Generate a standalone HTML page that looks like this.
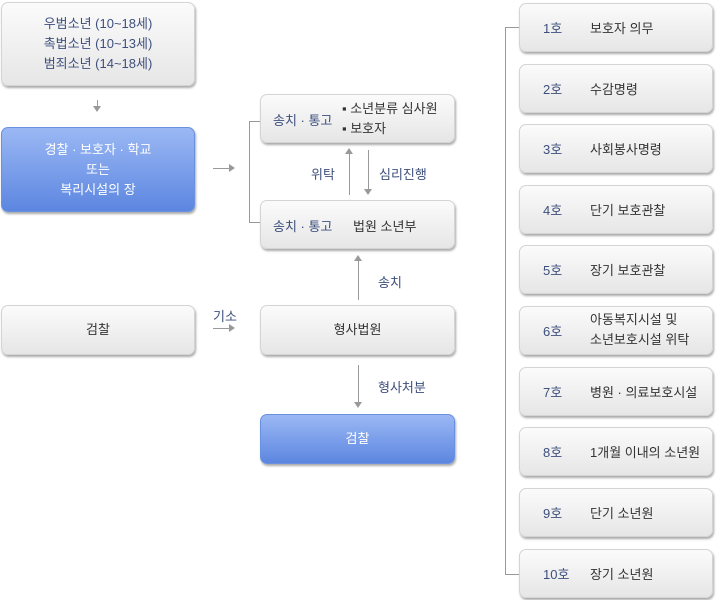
<!DOCTYPE html>
<html><head><meta charset="utf-8"><style>
body{margin:0;width:720px;height:600px;background:#fff;position:relative;font-family:"Liberation Sans","Noto Sans CJK KR",sans-serif;font-size:13px;color:#333;overflow:hidden}
.b{position:absolute;box-sizing:border-box;border:1px solid #d4d4d4;border-radius:7px;background:linear-gradient(#fbfbfb,#e6e6e6);box-shadow:1px 2px 2px #aaa}
.bl{background:linear-gradient(#9bb8f4,#5c86e0);border-color:#6a90e0;color:#fff}
.c{display:flex;align-items:center;justify-content:center;text-align:center;line-height:20px}
.t{position:absolute;white-space:nowrap}
.lb{color:#3d4f7c}
.l{position:absolute;background:#999}
.ad{position:absolute;width:0;height:0;border-left:4px solid transparent;border-right:4px solid transparent;border-top:6px solid #999}
.au{position:absolute;width:0;height:0;border-left:4px solid transparent;border-right:4px solid transparent;border-bottom:6px solid #999}
.ar{position:absolute;width:0;height:0;border-top:4px solid transparent;border-bottom:4px solid transparent;border-left:6px solid #999}
</style></head><body>
<div class="b c lb" style="left:1px;top:2px;width:194px;height:84px;color:#3d4f7c">우범소년 (10~18세)<br>촉법소년 (10~13세)<br>범죄소년 (14~18세)</div>
<div class="l" style="left:97px;top:100px;width:1px;height:7px"></div><div class="ad" style="left:93px;top:106px"></div>
<div class="b bl c" style="left:1px;top:127px;width:194px;height:85px">경찰 · 보호자 · 학교<br>또는<br>복리시설의 장</div>
<div class="l" style="left:213px;top:168px;width:17px;height:1px"></div><div class="ar" style="left:229px;top:164px"></div>
<div class="l" style="left:249px;top:121px;width:1px;height:102px"></div>
<div class="l" style="left:249px;top:121px;width:11px;height:1px"></div>
<div class="l" style="left:249px;top:222px;width:11px;height:1px"></div>
<div class="b" style="left:260px;top:94px;width:195px;height:49px"></div>
<div class="t lb" style="left:273px;top:110px">송치 · 통고</div>
<div class="t" style="left:342px;top:99px;line-height:20px">▪ 소년분류 심사원<br>▪ 보호자</div>
<div class="l" style="left:349px;top:152px;width:1px;height:43px"></div><div class="au" style="left:345px;top:148px"></div>
<div class="l" style="left:368px;top:150px;width:1px;height:40px"></div><div class="ad" style="left:364px;top:189px"></div>
<div class="t lb" style="left:311px;top:164px">위탁</div>
<div class="t lb" style="left:379px;top:164px">심리진행</div>
<div class="b" style="left:260px;top:200px;width:195px;height:49px"></div>
<div class="t lb" style="left:273px;top:216px">송치 · 통고</div>
<div class="t" style="left:353px;top:216px">법원 소년부</div>
<div class="l" style="left:358px;top:259px;width:1px;height:41px"></div><div class="au" style="left:354px;top:255px"></div>
<div class="t lb" style="left:378px;top:272px">송치</div>
<div class="b c" style="left:1px;top:305px;width:194px;height:50px">검찰</div>
<div class="t lb" style="left:213px;top:306px">기소</div>
<div class="l" style="left:213px;top:328px;width:17px;height:1px"></div><div class="ar" style="left:229px;top:324px"></div>
<div class="b c" style="left:260px;top:305px;width:195px;height:50px">형사법원</div>
<div class="l" style="left:358px;top:365px;width:1px;height:38px"></div><div class="ad" style="left:354px;top:402px"></div>
<div class="t lb" style="left:378px;top:377px">형사처분</div>
<div class="b bl c" style="left:260px;top:414px;width:195px;height:50px">검찰</div>
<div class="l" style="left:505px;top:27px;width:1px;height:548px"></div>
<div class="l" style="left:505px;top:27px;width:14px;height:1px"></div>
<div class="l" style="left:505px;top:574px;width:14px;height:1px"></div>
<div class="b" style="left:519px;top:3px;width:194px;height:49px"></div><div class="t lb" style="left:543px;top:18px">1호</div><div class="t" style="left:590px;top:18px">보호자 의무</div>
<div class="b" style="left:519px;top:64px;width:194px;height:49px"></div><div class="t lb" style="left:543px;top:79px">2호</div><div class="t" style="left:590px;top:79px">수감명령</div>
<div class="b" style="left:519px;top:124px;width:194px;height:49px"></div><div class="t lb" style="left:543px;top:139px">3호</div><div class="t" style="left:590px;top:139px">사회봉사명령</div>
<div class="b" style="left:519px;top:185px;width:194px;height:49px"></div><div class="t lb" style="left:543px;top:200px">4호</div><div class="t" style="left:590px;top:200px">단기 보호관찰</div>
<div class="b" style="left:519px;top:245px;width:194px;height:49px"></div><div class="t lb" style="left:543px;top:260px">5호</div><div class="t" style="left:590px;top:260px">장기 보호관찰</div>
<div class="b" style="left:519px;top:306px;width:194px;height:49px"></div><div class="t lb" style="left:543px;top:321px">6호</div><div class="t" style="left:590px;top:310px;line-height:20px">아동복지시설 및<br>소년보호시설 위탁</div>
<div class="b" style="left:519px;top:367px;width:194px;height:49px"></div><div class="t lb" style="left:543px;top:382px">7호</div><div class="t" style="left:590px;top:382px">병원 · 의료보호시설</div>
<div class="b" style="left:519px;top:427px;width:194px;height:49px"></div><div class="t lb" style="left:543px;top:442px">8호</div><div class="t" style="left:590px;top:442px">1개월 이내의 소년원</div>
<div class="b" style="left:519px;top:488px;width:194px;height:49px"></div><div class="t lb" style="left:543px;top:503px">9호</div><div class="t" style="left:590px;top:503px">단기 소년원</div>
<div class="b" style="left:519px;top:549px;width:194px;height:49px"></div><div class="t lb" style="left:543px;top:564px">10호</div><div class="t" style="left:590px;top:564px">장기 소년원</div>
</body></html>
